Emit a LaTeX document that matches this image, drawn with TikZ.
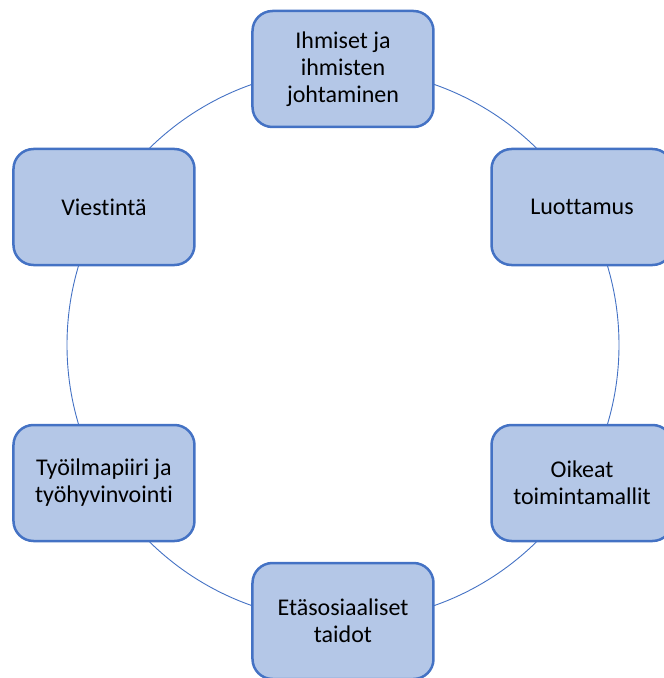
\documentclass[tikz,border=0pt]{standalone}
\usepackage{fontspec}
\setmainfont{Carlito}[Ligatures={NoCommon}]
\usepackage{tikz}
\definecolor{boxfill}{HTML}{B4C7E7}
\definecolor{boxline}{HTML}{4472C4}
\tikzset{
    % Define box style
    boxnode/.style={
           rectangle,
           rounded corners=20pt,
           draw=boxline,
           line width=2.5pt,
           fill=boxfill,
           minimum width=181pt,
           minimum height=116pt,
           align=center,
           font=\fontsize{24}{27}\selectfont,}
}
\begin{document}
\begin{tikzpicture}
\useasboundingbox (-343pt,-333pt) rectangle (321pt,345pt);
%Circle
\coordinate (centre) at (0,0);
\draw[boxline, line width=0.9pt] (centre) circle (276pt);

%Nodes
\node[boxnode](ihmiset) at (90:276pt){Ihmiset ja\\ihmisten\\johtaminen};
\node[boxnode](luottamus) at (30:276pt){Luottamus};
\node[boxnode](oikeat) at (-30:276pt){Oikeat\\toimintamallit};
\node[boxnode](etaso) at (-90:276pt){Etäsosiaaliset\\taidot};
\node[boxnode](tyoilma) at (-150:276pt){Työilmapiiri ja\\työhyvinvointi};
\node[boxnode](viestinta) at (150:276pt){Viestintä};

\end{tikzpicture}
\end{document}
